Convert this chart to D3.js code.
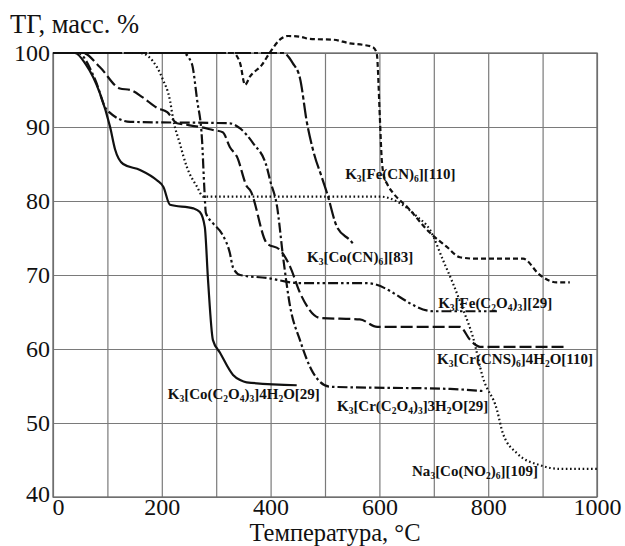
<!DOCTYPE html>
<html>
<head>
<meta charset="utf-8">
<script src="https://cdn.jsdelivr.net/npm/d3@7"></script>
<style>
  body { margin: 0; background: #fff; }
  svg text { font-family: "Liberation Serif", "Times New Roman", serif; fill: #111; }
</style>
</head>
<body>
<div id="chart"></div>
<script>
// Данные ТГ-кривых: [температура, масса %]
const xTicks = [0, 100, 200, 300, 400, 500, 600, 700, 800, 900, 1000];
const yTicks = [40, 50, 60, 70, 80, 90, 100];

const coOxalate = [[0,100],[40,100],[60,98.5],[86,94.6],[105,90],[114,87],[129,85],[160,84.2],[191,82.8],[203,81.9],[215,79.5],[258,79],[270,78.5],[279,76.5],[285,69.3],[294,61.2],[307,59.5],[331,56.5],[344,55.8],[356,55.5],[448,55.1]];
const crOxalate = [[0,100],[46,100],[77,96.5],[99,92.3],[142,90.7],[325,90.5],[344,89.8],[368,87.8],[393,84.6],[399,82.8],[412,79.2],[423,72.4],[436,65.7],[454,61.2],[478,56.8],[509,54.9],[730,54.6],[794,54.3]];
const feOxalate = [[0,100],[239,100],[255,98.6],[265,93.6],[274,88.2],[278,82],[281,78.4],[294,77],[312,75.4],[325,73],[331,71],[344,70],[393,69.6],[454,68.9],[577,68.9],[699,65.1],[816,65.1]];
const crCNS = [[0,100],[55,100],[86,98.1],[123,95.2],[142,95],[165,94],[191,92.6],[210,92],[228,90.5],[246,90.3],[270,90],[294,89.6],[312,89.3],[325,87.3],[338,86],[357,81.9],[362,81.5],[393,74.3],[417,73.4],[436,71.1],[454,67.6],[491,64.2],[564,64],[596,63],[748,63],[767,61.2],[785,60.3],[945,60.3]];
const coCN = [[0,100],[423,100],[441,98.6],[454,96.6],[467,90.5],[478,86.9],[496,82.8],[504,81],[522,76.5],[546,74.7],[551,74.3]];
const naNitrite = [[0,100],[160,100],[191,98.1],[202,96.4],[215,93.6],[221,91],[233,87.8],[246,84.6],[265,81.9],[276,80.6],[601,80.6],[638,79.7],[669,77.9],[693,76.1],[717,72],[735,68.9],[754,65.3],[772,61.6],[790,56.2],[816,51.8],[827,48.6],[853,45.9],[895,44.3],[932,43.8],[1000,43.8]];
const feCN = [[0,100],[331,100],[344,98.6],[353,95.7],[362,96.8],[384,98.4],[399,100.1],[417,101.8],[432,102.3],[454,102.2],[472,101.9],[515,101.8],[546,101.3],[570,101.1],[588,100.8],[595,100],[601,91],[604,86],[608,83.5],[615,82.2],[625,81.1],[651,79.2],[693,75.7],[724,73.8],[748,72.4],[779,72.2],[864,72.2],[895,70],[926,69],[950,69]];

const series = [
    { data: coOxalate, dash: null },
    { data: crOxalate, dash: "10,3,2.5,3" },
    { data: feOxalate, dash: "10,3,2.5,3,2.5,3" },
    { data: crCNS, dash: "12,4" },
    { data: coCN, dash: "16,3,4,3" },
    { data: naNitrite, dash: "1.6,2.6" },
    { data: feCN, dash: "5,3" }
];

// подписи: текст, температура, масса (положение базовой линии)
const labels = [
    { text: "K{3}[Fe(CN){6}][110]", t: 537, m: 83.0 },
    { text: "K{3}[Co(CN){6}][83]", t: 467, m: 71.8 },
    { text: "K{3}[Fe(C{2}O{4}){3}][29]", t: 708, m: 65.5 },
    { text: "K{3}[Cr(CNS){6}]4H{2}O[110]", t: 706, m: 58.0 },
    { text: "K{3}[Co(C{2}O{4}){3}]4H{2}O[29]", t: 211, m: 53.2 },
    { text: "K{3}[Cr(C{2}O{4}){3}]3H{2}O[29]", t: 522, m: 51.6 },
    { text: "Na{3}[Co(NO{2}){6}][109]", t: 660, m: 42.8 }
];

const serif = '"Liberation Serif", "Times New Roman", serif';
const W = 625, H = 546;
const svg = d3.select("#chart").append("svg")
    .attr("width", W)
    .attr("height", H)
    .style("font-family", serif);

const x = d3.scaleLinear().domain([0, 1000]).range([53, 597]);
const y = d3.scaleLinear().domain([40, 100]).range([497, 53]);

// Сетка и оси
const gx = svg.append("g")
    .attr("transform", `translate(0, ${y(40)})`)
    .call(d3.axisBottom(x).tickValues(xTicks).tickSize(-(y(40) - y(100)))
        .tickFormat(d => d % 200 === 0 ? d : ""));
gx.attr("font-family", null).style("font-family", serif);
gx.select(".domain").remove();
gx.selectAll("line").attr("stroke", "#7a7a7a").attr("stroke-width", 1.2);
gx.selectAll("text").style("font-size", "24px").style("font-family", serif)
    .attr("dy", null).attr("y", 18)
    .attr("dx", d => d === 0 ? 5 : 0);

const gy = svg.append("g")
    .attr("transform", `translate(${x(0)}, 0)`)
    .call(d3.axisLeft(y).tickValues(yTicks).tickSize(-(x(1000) - x(0))).tickPadding(3));
gy.attr("font-family", null).style("font-family", serif);
gy.select(".domain").remove();
gy.selectAll("line").attr("stroke", "#7a7a7a").attr("stroke-width", 1.2);
gy.selectAll("text").style("font-size", "24px").style("font-family", serif)
    .attr("dy", d => d === 40 ? "0.2em" : "0.32em");

// рамка
svg.append("rect")
    .attr("x", x(0)).attr("y", y(100))
    .attr("width", x(1000) - x(0)).attr("height", y(40) - y(100))
    .attr("fill", "none").attr("stroke", "#6a6a6a").attr("stroke-width", 1.3);

// Кривые
const line = d3.line().x(d => x(d[0])).y(d => y(d[1])).curve(d3.curveMonotoneX);
svg.selectAll(".tg")
    .data(series)
    .enter().append("path")
    .attr("class", "tg")
    .attr("d", d => line(d.data))
    .attr("fill", "none")
    .attr("stroke", "#111")
    .attr("stroke-width", 2.2)
    .attr("stroke-dasharray", d => d.dash);

// Подписи с нижними индексами
labels.forEach(l => {
    const t = svg.append("text")
        .attr("x", x(l.t))
        .attr("y", y(l.m))
        .style("font-size", "15px")
        .style("font-weight", "bold");
    let shifted = 0;
    l.text.split(/(\{[^}]*\})/).filter(s => s.length).forEach(part => {
        const sub = part[0] === "{";
        const target = sub ? 3 : 0;
        const ts = t.append("tspan").attr("dy", target - shifted);
        shifted = target;
        if (sub) ts.style("font-size", "9.5px").text(part.slice(1, -1));
        else ts.text(part);
    });
});

// Подписи осей
svg.append("text")
    .attr("x", 10).attr("y", 33)
    .style("font-size", "26.5px")
    .text("ТГ, масс. %");

svg.append("text")
    .attr("x", 335).attr("y", 541)
    .attr("text-anchor", "middle")
    .style("font-size", "24.5px")
    .text("Температура, °C");
</script>
</body>
</html>
